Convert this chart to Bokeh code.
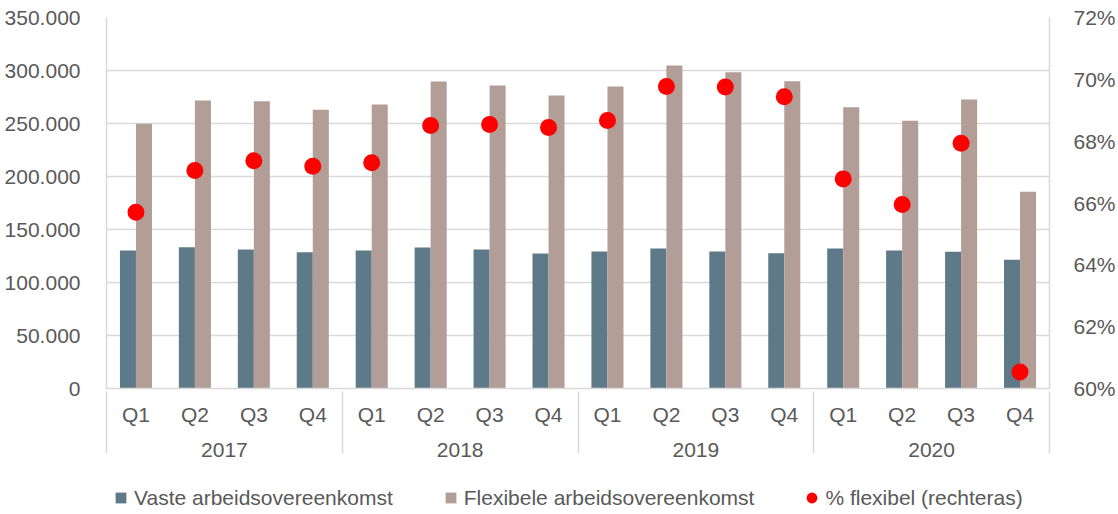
from bokeh.plotting import figure
from bokeh.layouts import column
from bokeh.models import (ColumnDataSource, FactorRange, Range1d, LinearAxis, FixedTicker,
                          Legend, LegendItem, CategoricalAxis)
from bokeh.transform import dodge
from bokeh.embed import file_html
from bokeh.resources import INLINE

years = ["2017", "2018", "2019", "2020"]
quarters = ["Q1", "Q2", "Q3", "Q4"]
vaste = [130200, 133300, 131100, 128600,
         130200, 133000, 131100, 127400,
         129300, 132100, 129200, 127600,
         132100, 130200, 129000, 121400]
flexibel = [249700, 271700, 271100, 262900,
            267900, 289600, 285800, 276400,
            284900, 304700, 298400, 289900,
            265400, 252500, 272600, 185500]
pct_flex = [65.70, 67.05, 67.37, 67.19,
            67.30, 68.51, 68.54, 68.44,
            68.67, 69.77, 69.75, 69.44,
            66.78, 65.95, 67.93, 60.53]
left_ticks = [0, 50000, 100000, 150000, 200000, 250000, 300000, 350000]
right_ticks = [60, 62, 64, 66, 68, 70, 72]
legend_labels = ["Vaste arbeidsovereenkomst", "Flexibele arbeidsovereenkomst",
                 "% flexibel (rechteras)"]

FONT = "Liberation Sans"
FS = "21px"
TXT = "#595959"
GRID = "#D9D9D9"
C_VASTE = "#5E7A88"
C_FLEX = "#B29E97"
C_RED = "#FF0000"

factors = [(y, q) for y in years for q in quarters]
src = ColumnDataSource(dict(x=factors, vaste=vaste, flex=flexibel, pct=pct_flex))

p = figure(frame_width=943, frame_height=371, output_backend="svg", toolbar_location=None,
           x_range=FactorRange(factors=factors, range_padding=0, group_padding=0,
                               factor_padding=0, subgroup_padding=0),
           y_range=Range1d(0, 350000), x_axis_location=None,
           min_border_left=106, min_border_right=58, min_border_top=17, min_border_bottom=80)
p.outline_line_color = None
p.extra_y_ranges = {"pct": Range1d(60, 72)}

# axis range with blank outer groups, trimmed so their separators fall on the frame edges
axis_factors = [(" ", "")] + factors + [("  ", "")]
p.extra_x_ranges = {"axis": FactorRange(factors=axis_factors, range_padding=-0.999,
                                        range_padding_units="absolute", group_padding=0,
                                        factor_padding=0, subgroup_padding=0)}

p.vbar(x=dodge("x", -0.136, range=p.x_range), top="vaste", width=0.272, source=src,
       fill_color=C_VASTE, line_color=None)
p.vbar(x=dodge("x", 0.136, range=p.x_range), top="flex", width=0.272, source=src,
       fill_color=C_FLEX, line_color=None)
p.scatter(x="x", y="pct", y_range_name="pct", size=17, source=src,
          fill_color=C_RED, line_color=None)

# left axis
ya = p.yaxis[0]
ya.ticker = FixedTicker(ticks=left_ticks)
ya.major_label_overrides = {t: f"{t:,}".replace(",", ".") for t in left_ticks}
ya.axis_line_color = GRID
ya.axis_line_width = 1.5
ya.major_tick_line_color = None
ya.minor_tick_line_color = None
ya.major_label_standoff = 20
ya.major_label_text_font = FONT
ya.major_label_text_font_size = FS
ya.major_label_text_color = TXT

ra = LinearAxis(y_range_name="pct", ticker=FixedTicker(ticks=right_ticks))
ra.major_label_overrides = {t: f"{t}%" for t in right_ticks}
ra.axis_line_color = GRID
ra.axis_line_width = 1.5
ra.major_tick_line_color = None
ra.minor_tick_line_color = None
ra.major_label_standoff = 18
ra.major_label_text_font = FONT
ra.major_label_text_font_size = FS
ra.major_label_text_color = TXT
p.add_layout(ra, "right")

p.ygrid.grid_line_color = GRID
p.ygrid.grid_line_width = 1.5
p.ygrid.ticker = FixedTicker(ticks=left_ticks)
p.xgrid.grid_line_color = None

xa = CategoricalAxis(x_range_name="axis")
xa.axis_line_color = GRID
xa.axis_line_width = 1.5
xa.major_tick_line_color = None
xa.minor_tick_line_color = None
xa.major_tick_out = 0
xa.major_tick_in = 0
xa.major_label_standoff = 14
xa.major_label_text_font = FONT
xa.major_label_text_font_size = FS
xa.major_label_text_color = TXT
xa.group_text_font = FONT
xa.group_text_font_size = FS
xa.group_text_color = TXT
xa.group_text_font_style = "normal"
xa.separator_line_color = GRID
xa.separator_line_width = 1.5
p.add_layout(xa, "below")

# legend in its own strip below the chart (frame aligned with the chart's frame)
lg = figure(width=1110, height=46, output_backend="svg", toolbar_location=None,
            x_range=Range1d(0, 1), y_range=Range1d(0, 1),
            x_axis_location=None, y_axis_location=None,
            min_border_left=0, min_border_right=0, min_border_top=0, min_border_bottom=0)
lg.outline_line_color = None
lg.grid.visible = False
# one off-range point so the legend markers have a style to draw with
dummy = ColumnDataSource(dict(x=[-5], y=[-5]))
r1 = lg.scatter(x="x", y="y", source=dummy, marker="square", size=10,
                fill_color=C_VASTE, line_color=None)
r2 = lg.scatter(x="x", y="y", source=dummy, marker="square", size=10,
                fill_color=C_FLEX, line_color=None)
r3 = lg.scatter(x="x", y="y", source=dummy, marker="circle", size=10,
                fill_color=C_RED, line_color=None)
legend = Legend(items=[LegendItem(label=legend_labels[0], renderers=[r1]),
                       LegendItem(label=legend_labels[1], renderers=[r2]),
                       LegendItem(label=legend_labels[2], renderers=[r3])],
                orientation="horizontal", location=(1, 3),
                glyph_width=27, glyph_height=27, label_standoff=-3, spacing=44,
                padding=0, margin=0, border_line_color=None, background_fill_alpha=0,
                label_text_font=FONT, label_text_font_size=FS, label_text_color=TXT)
lg.add_layout(legend)

open("out.html", "w").write(file_html(column(p, lg, spacing=0), INLINE))
